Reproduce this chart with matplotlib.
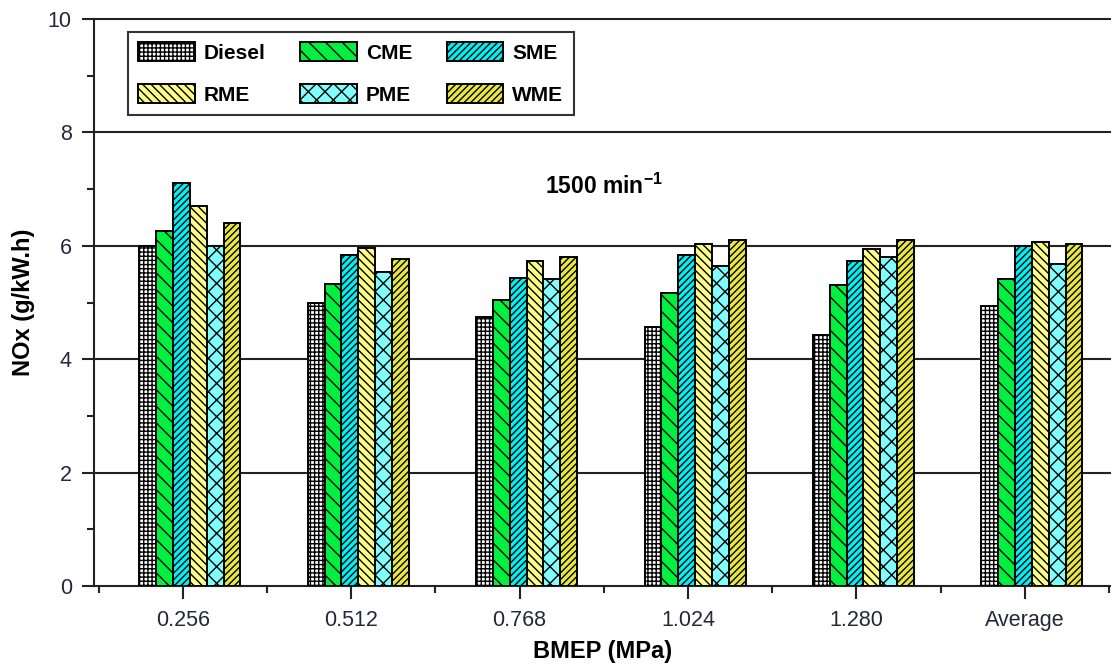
import matplotlib
matplotlib.use("Agg")
import matplotlib.pyplot as plt
import numpy as np
from matplotlib.ticker import FixedLocator, MultipleLocator

plt.rcParams['font.family'] = ['Liberation Sans', 'DejaVu Sans']
plt.rcParams['mathtext.fontset'] = 'custom'
plt.rcParams['mathtext.rm'] = 'Liberation Sans:bold'
plt.rcParams['mathtext.bf'] = 'Liberation Sans:bold'
plt.rcParams['mathtext.default'] = 'bf'
plt.rcParams['hatch.linewidth'] = 1.0

categories = ["0.256", "0.512", "0.768", "1.024", "1.280", "Average"]
fuels = ["Diesel", "CME", "SME", "RME", "PME", "WME"]

diesel = [6.00, 4.99, 4.75, 4.56, 4.43, 4.94]
cme = [6.26, 5.33, 5.04, 5.16, 5.30, 5.42]
sme = [7.10, 5.83, 5.44, 5.83, 5.74, 6.00]
rme = [6.70, 5.97, 5.74, 6.03, 5.94, 6.06]
pme = [6.00, 5.53, 5.41, 5.65, 5.80, 5.68]
wme = [6.41, 5.77, 5.80, 6.11, 6.11, 6.03]

series = [diesel, cme, sme, rme, pme, wme]
colors = ["#ffffff", "#00f040", "#00f0f4", "#ffff88", "#80ffff", "#e8e840"]
hatches = ["++++", "\\\\", "/////", "\\\\\\\\", "xx", "/////"]

fig = plt.figure(figsize=(11.11, 6.66), dpi=100)
ax = fig.add_axes([94 / 1111, 1 - 586 / 666, 1 - 94 / 1111, (586 - 19) / 666])

x = np.arange(len(categories))
width = 0.1
start = -0.258
bars = []
for i, (vals, name) in enumerate(zip(series, fuels)):
    b = ax.bar(x + start + i * width, vals, width=width, align='edge',
               color=colors[i], edgecolor='black', linewidth=1.4,
               hatch=hatches[i], label=name, zorder=3)
    bars.append(b)

ax.set_xlim(-0.527, 5.512)
ax.set_ylim(0, 10)

# horizontal reference lines
for yv in [2, 4, 6, 8]:
    ax.axhline(yv, color='#222222', lw=1.5, zorder=1)

ax.set_xticks(x)
ax.set_xticklabels(categories)
ax.xaxis.set_minor_locator(FixedLocator(np.arange(-0.5, 6.0, 1.0)))
ax.set_yticks([0, 2, 4, 6, 8, 10])
ax.yaxis.set_minor_locator(MultipleLocator(1))

ax.tick_params(axis='both', which='major', direction='out', length=9, width=1.5,
               labelsize=15.5, labelcolor='#222a3a', color='#222222')
ax.tick_params(axis='both', which='minor', direction='out', length=5, width=1.5,
               color='#222222')
ax.tick_params(axis='x', which='major', pad=8)
ax.tick_params(axis='y', which='major', pad=7)

for side in ['left', 'bottom', 'top']:
    ax.spines[side].set_linewidth(1.5)
    ax.spines[side].set_color('#222222')
ax.spines['right'].set_visible(False)

ax.set_xlabel("BMEP (MPa)", fontsize=17, fontweight='bold', labelpad=7)
ax.set_ylabel("NOx (g/kW.h)", fontsize=17, fontweight='bold', labelpad=9)

ax.text(2.15, 7.05, "1500 min$^{-1}$", fontsize=16.5, fontweight='bold',
        ha='left', va='center')

# legend filled row by row: Diesel CME SME / RME PME WME
order = [0, 3, 1, 4, 2, 5]
leg = ax.legend([bars[k] for k in order], [fuels[k] for k in order],
                ncol=3, loc='upper left', bbox_to_anchor=(0.0334, 0.9776),
                borderaxespad=0, frameon=True, fancybox=False, shadow=False,
                prop={'weight': 'bold', 'size': 15},
                handlelength=2.7, handleheight=1.0, handletextpad=0.45,
                columnspacing=1.65, labelspacing=1.05, borderpad=0.5)
leg.get_frame().set_edgecolor('black')
leg.get_frame().set_linewidth(1.5)
leg.set_zorder(5)

fig.savefig("out.png", dpi=100)
